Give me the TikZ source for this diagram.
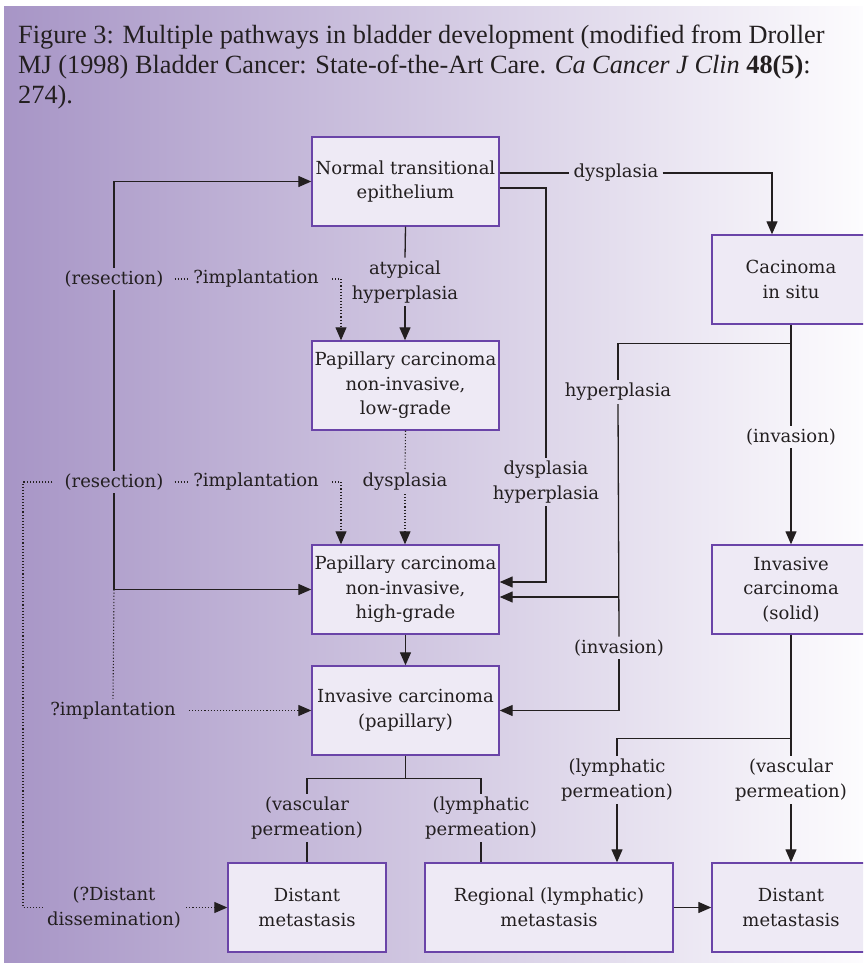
\documentclass[tikz,border=0pt]{standalone}
\usepackage{fontspec}
\setmainfont{DejaVu Serif}
\newfontfamily\titlefont{Liberation Serif}
\usetikzlibrary{arrows.meta,calc}
\definecolor{bgL}{HTML}{A795C6}
\definecolor{bgR}{HTML}{FDFCFE}
\definecolor{boxfill}{HTML}{EEEAF5}
\definecolor{boxline}{HTML}{6A44A8}
\definecolor{ink}{HTML}{231F20}
\newcommand\diaglab{\fontsize{18}{24.5}\selectfont}
\newcommand\titlefs{\titlefont\fontsize{26.3}{30}\selectfont}
\begin{document}
\begin{tikzpicture}[x=1pt,y=-1pt,
  box/.style={draw=boxline,fill=boxfill,line width=1.4pt,align=center,minimum width=187pt,minimum height=89pt,inner sep=0pt,font=\diaglab,text=ink},
  sbox/.style={box,minimum width=158pt},
  lbl/.style={align=center,inner sep=3pt,font=\diaglab,text=ink},
  conn/.style={draw=ink,line width=1.3pt},
  arr/.style={conn,-{Triangle[length=13pt,width=11pt]}},
  dot/.style={draw=ink,line width=1.1pt,dotted},
  darr/.style={dot,-{Triangle[length=13pt,width=11pt]}}]
\useasboundingbox (0,0) rectangle (863,963);
\clip (0,0) rectangle (863,963);
\shade[left color=bgL,right color=bgR] (4,7) rectangle (863,963);

% title
\node[anchor=base west,font=\titlefs,text=ink,inner sep=0] (t1) at (18,44) {Figure 3: Multiple pathways in bladder development (modified from Droller};
\node[anchor=base west,font=\titlefs,text=ink,inner sep=0] (t2) at (18,74) {MJ (1998) Bladder Cancer: State-of-the-Art Care. \textit{Ca Cancer J Clin} \textbf{48(5)}:};
\node[anchor=base west,font=\titlefs,text=ink,inner sep=0] (t3) at (18,104) {274).};

% boxes
\node[box] (nte) at (405.5,181.5) {Normal transitional\\epithelium};
\node[box] (plg) at (405.5,385.5) {Papillary carcinoma\\non-invasive,\\low-grade};
\node[box] (phg) at (405.5,589.5) {Papillary carcinoma\\non-invasive,\\high-grade};
\node[box] (ip) at (405.5,710.5) {Invasive carcinoma\\(papillary)};
\node[sbox] (cis) at (791,279.5) {Cacinoma\\in situ};
\node[sbox] (ics) at (791,589.5) {Invasive\\carcinoma\\(solid)};
\node[sbox] (dm1) at (307,907.5) {Distant\\metastasis};
\node[box,minimum width=248pt] (rm) at (549,907.5) {Regional (lymphatic)\\metastasis};
\node[sbox] (dm2) at (791,907.5) {Distant\\metastasis};

% labels
\node[lbl,inner xsep=4pt] (lDys) at (616,173) {dysplasia};
\node[lbl] (lAtyp) at (405,282) {atypical\\hyperplasia};
\node[lbl] (lRes1) at (114,279) {(resection)};
\node[lbl] (lImp1) at (256,279) {?implantation};
\node[lbl] (lRes2) at (114,482) {(resection)};
\node[lbl] (lImp2) at (256,482) {?implantation};
\node[lbl] (lDys2) at (405,482) {dysplasia};
\node[lbl] (lDH) at (546,482) {dysplasia\\hyperplasia};
\node[lbl] (lHyp) at (618,392) {hyperplasia};
\node[lbl] (lInv1) at (791,437) {(invasion)};
\node[lbl] (lInv2) at (619,648) {(invasion)};
\node[lbl] (lImp3) at (113,710.5) {?implantation};
\node[lbl,inner sep=2pt] (lDist) at (114,907.5) {(?Distant\\dissemination)};
\node[lbl] (lVas1) at (307,818) {(vascular\\permeation)};
\node[lbl] (lLym1) at (481,818) {(lymphatic\\permeation)};
\node[lbl] (lLym2) at (617,780) {(lymphatic\\permeation)};
\node[lbl] (lVas2) at (791,780) {(vascular\\permeation)};

% coordinates
\coordinate (cJ) at ($(cis.south)+(0,19)$);
\coordinate (cL2) at ($(ics.south)+(0,104)$);
\coordinate (cM) at ($(ip.south)+(0,23)$);
\coordinate (cHG) at (lRes2.south |- phg.west);
\coordinate (cLeft) at (23,0);

% normal -> CIS
\draw[conn] (nte.east |- lDys) -- (lDys.west);
\draw[arr] (lDys.east) -| ($(cis.north)+(-19,0)$);
% normal -> high grade (dysplasia hyperplasia)
\draw[conn] ($(nte.east)+(0,6.5)$) -| (lDH.north);
\draw[arr] (lDH.south) |- ($(phg.east)+(0,-7.5)$);
% normal -> low grade
\draw[conn] (nte.south) -- (lAtyp.north);
\draw[arr] (lAtyp.south) -- (lAtyp.south |- plg.north);
% resection loops
\draw[arr] (lRes1.north) |- (nte.west);
\draw[conn] (lRes1.south) -- (lRes2.north);
\draw[arr] (lRes2.south) |- (phg.west);
% implantation
\draw[dot] ([xshift=8pt]lRes1.east) -- ([xshift=-3pt]lImp1.west);
\draw[darr] ([xshift=10pt]lImp1.east) -| ($(plg.north)+(-64.5,0)$);
\draw[dot] ([xshift=8pt]lRes2.east) -- ([xshift=-3pt]lImp2.west);
\draw[darr] ([xshift=10pt]lImp2.east) -| ($(phg.north)+(-64.5,0)$);
\draw[dot] ([xshift=-9pt]lRes2.west) -| (cLeft |- lDist.west) -- (lDist.west);
\draw[darr] ([xshift=3pt]lDist.east) -- (dm1.west);
\draw[dot] (cHG) -- (lImp3.north);
\draw[darr] ([xshift=10pt]lImp3.east) -- (ip.west);
% low grade -> high grade
\draw[dot] (plg.south) -- (lDys2.north);
\draw[darr] (lDys2.south) -- (lDys2.south |- phg.north);
% high grade -> invasive papillary
\draw[arr] (phg.south) -- (phg.south |- ip.north);
% CIS branches
\draw[conn] (cis.south) -- (lInv1.north);
\draw[conn] (cJ) -| (lHyp.north);
\draw[conn] (lHyp.south) -- (lInv2.north);
\draw[arr] ($(lHyp.south |- phg.east)+(0,7.5)$) -- ($(phg.east)+(0,7.5)$);
\draw[arr] (lInv2.south) |- (ip.east);
\draw[arr] (lInv1.south) -- (ics.north);
% invasive solid
\draw[conn] (ics.south) -- (lVas2.north);
\draw[conn] (cL2) -| (lLym2.north);
\draw[arr] (lLym2.south) -- (lLym2.south |- rm.north);
\draw[arr] (lVas2.south) -- (dm2.north);
% invasive papillary
\draw[conn] (ip.south) -- (cM);
\draw[conn] (lVas1.north) |- (cM) -| (lLym1.north);
\draw[conn] (lVas1.south) -- (dm1.north);
\draw[conn] (lLym1.south) -- (lLym1.south |- rm.north);
% regional -> distant
\draw[arr] (rm.east) -- (dm2.west);
\end{tikzpicture}
\end{document}
